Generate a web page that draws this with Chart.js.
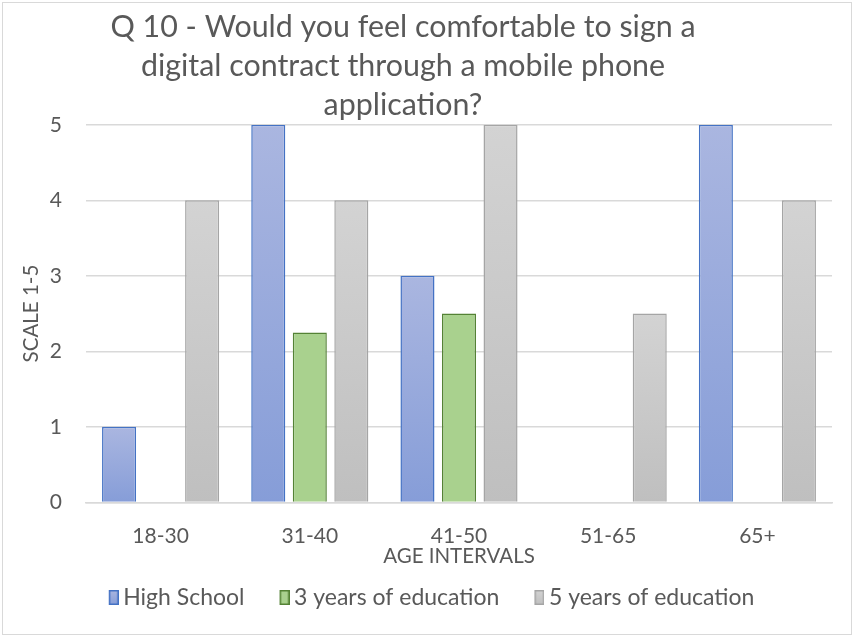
<!DOCTYPE html>
<html>
<head>
<meta charset="utf-8">
<script src="https://cdn.jsdelivr.net/npm/chart.js@4"></script>
<style>
  html, body { margin: 0; padding: 0; background: #fff; }
  #wrap { width: 854px; height: 637px; }
</style>
</head>
<body>
<div id="wrap"><canvas id="bar_chart" width="854" height="637"></canvas></div>
<script>
const categories = ['18-30', '31-40', '41-50', '51-65', '65+'];
const highSchool = [1, 5, 3, null, 5];
const threeYears = [null, 2.25, 2.5, null, null];
const fiveYears = [4, 4, 5, 2.5, 4];
const yTicks = [0, 1, 2, 3, 4, 5];

const FONT = 'Lato, "Open Sans", sans-serif';
const TEXT = '#595959';

// vertical gradient per bar, from the value down to zero
function barGradient(top, bottom, solid) {
    return function (ctx) {
        const chart = ctx.chart;
        if (!chart.chartArea || ctx.type !== 'data' || ctx.parsed.y == null) return solid;
        const y = chart.scales.y;
        const g = chart.ctx.createLinearGradient(0, y.getPixelForValue(ctx.parsed.y), 0, y.getPixelForValue(0));
        g.addColorStop(0, top);
        g.addColorStop(1, bottom);
        return g;
    };
}

// legend marker: small tall box pushed to the right so it sits close to its text
function legendMarker(top, bottom, border) {
    const c = document.createElement('canvas');
    c.width = 24;
    c.height = 15;
    const x = c.getContext('2d');
    const g = x.createLinearGradient(0, 0, 0, 15);
    g.addColorStop(0, top);
    g.addColorStop(1, bottom);
    x.fillStyle = g;
    x.fillRect(14, 0, 10, 15);
    x.strokeStyle = border;
    x.lineWidth = 1.5;
    x.strokeRect(14.75, 0.75, 8.5, 13.5);
    return c;
}
const markers = [
    legendMarker('#aab6e0', '#869dd8', '#4472c4'),
    legendMarker('#a9d18e', '#a9d18e', '#548235'),
    legendMarker('#d3d3d3', '#bfbfbf', '#a5a5a5')
];

const frame = {
    id: 'frame',
    afterLayout: function (chart) {
        // title sits a bit left of centre in the original, legend a bit right
        if (chart.titleBlock) chart.titleBlock.right -= 36;
        if (chart.legend) {
            chart.legend.left += 7;
            chart.legend.right += 7;
        }
    },
    beforeDraw: function (chart) {
        const c = chart.ctx;
        c.save();
        c.fillStyle = '#fff';
        c.fillRect(0, 0, chart.width, chart.height);
        c.strokeStyle = '#d9d9d9';
        c.lineWidth = 1;
        c.strokeRect(2.5, 2.5, chart.width - 5, chart.height - 5);
        c.restore();
    }
};

const ctx = document.getElementById('bar_chart').getContext('2d');
window.myBar = new Chart(ctx, {
    type: 'bar',
    data: {
        labels: categories,
        datasets: [{
            label: 'High School',
            data: highSchool,
            backgroundColor: barGradient('#aab6e0', '#869dd8', '#9aabdd'),
            borderColor: '#4472c4',
            borderWidth: 1.5
        }, {
            label: '3 years of education',
            data: threeYears,
            backgroundColor: '#a9d18e',
            borderColor: '#548235',
            borderWidth: 1.5
        }, {
            label: '5 years of education',
            data: fiveYears,
            backgroundColor: barGradient('#d3d3d3', '#bfbfbf', '#c9c9c9'),
            borderColor: '#a5a5a5',
            borderWidth: 1.5
        }]
    },
    options: {
        responsive: false,
        animation: false,
        categoryPercentage: 0.835,
        barPercentage: 0.82,
        layout: { padding: { left: 10, right: 22, top: 0, bottom: 18 } },
        plugins: {
            title: {
                display: true,
                text: ['Q 10 - Would you feel comfortable to sign a', 'digital contract through a mobile phone', 'application?'],
                color: TEXT,
                font: { family: FONT, size: 30.4, weight: 'normal', lineHeight: 1.28 },
                padding: { top: 8, bottom: 0 }
            },
            legend: {
                position: 'bottom',
                labels: {
                    color: TEXT,
                    font: { family: FONT, size: 23 },
                    usePointStyle: true,
                    boxWidth: 10,
                    boxHeight: 15,
                    padding: 28,
                    generateLabels: function (chart) {
                        const items = Chart.defaults.plugins.legend.labels.generateLabels(chart);
                        items.forEach(function (it, i) { it.pointStyle = markers[i]; });
                        return items;
                    }
                }
            },
            tooltip: { enabled: false }
        },
        scales: {
            x: {
                grid: { display: false, drawTicks: false },
                border: { display: true, color: '#d9d9d9', width: 1.5 },
                ticks: { color: TEXT, font: { family: FONT, size: 21, lineHeight: 1.0 }, padding: 23 },
                title: {
                    display: true,
                    text: 'AGE INTERVALS',
                    color: TEXT,
                    font: { family: FONT, size: 20.5, lineHeight: 1.2 },
                    padding: { top: -25, bottom: -11 }
                }
            },
            y: {
                min: 0,
                max: 5,
                afterBuildTicks: function (scale) {
                    scale.ticks = yTicks.map(function (v) { return { value: v }; });
                },
                afterFit: function (scale) { scale.width = 76; },
                grid: { color: '#d9d9d9', lineWidth: 1.5, drawTicks: false },
                border: { display: false },
                ticks: { color: TEXT, font: { family: FONT, size: 21 }, padding: 24 },
                title: {
                    display: true,
                    text: 'SCALE 1-5',
                    color: TEXT,
                    font: { family: FONT, size: 20.5, lineHeight: 1.2 },
                    padding: { top: 9, bottom: 0 }
                }
            }
        }
    },
    plugins: [frame]
});
</script>
</body>
</html>
